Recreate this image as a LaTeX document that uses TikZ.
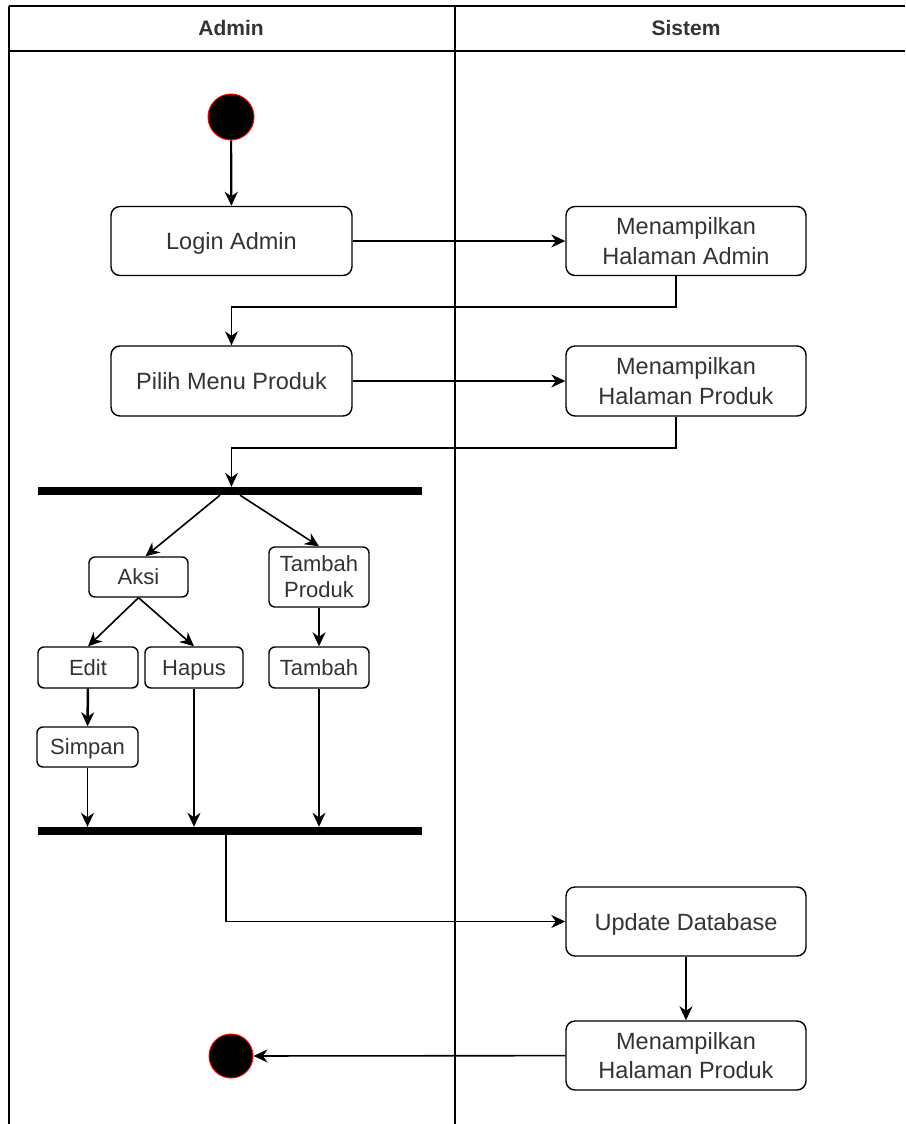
\documentclass[tikz,border=0pt]{standalone}
\usepackage{fontspec}
\setmainfont{Liberation Sans}
\usetikzlibrary{arrows.meta}
\definecolor{txt}{HTML}{333333}
\tikzset{
  act/.style={draw=black, line width=1.4pt, rounded corners=9pt, fill=white, text=txt, align=center,
    font=\fontsize{23.5}{29.5}\selectfont, inner sep=0pt},
  small/.style={draw=black, line width=1.4pt, rounded corners=6pt, fill=white, text=txt, align=center,
    font=\fontsize{22}{26}\selectfont, inner sep=0pt},
  onebig/.style={text height=17pt, text depth=0pt},
  onesmall/.style={text height=15.8pt, text depth=0pt},
  dot/.style={circle, fill=black, draw=red, line width=1pt, minimum size=46pt, inner sep=0pt},
  bar/.style={fill=black, draw=none, inner sep=0pt, minimum width=384pt, minimum height=8pt},
  flow/.style={line width=1.6pt, -{Stealth[length=14pt, width=13pt, inset=4.5pt]}},
  lane/.style={line width=1.5pt, black},
  head/.style={font=\fontsize{21}{25}\selectfont\bfseries, text=txt}
}
\begin{document}
\begin{tikzpicture}[x=1pt, y=-1pt]
\useasboundingbox (0,0) rectangle (905,1124);
% swimlanes
\draw[lane] (9,6) -- (905,6);
\draw[lane] (9,51) -- (905,51);
\draw[lane] (9,6) -- (9,1124);
\draw[lane] (455,6) -- (455,1124);
\node[head] (hadmin) at (231,28) {Admin};
\node[head] (hsistem) at (686,28) {Sistem};
% nodes
\node[dot] (start) at (231,117) {};
\node[act, onebig, minimum width=241pt, minimum height=69pt] (login) at (231.5,241) {Login Admin};
\node[act, minimum width=240pt, minimum height=69pt] (mha) at (686,241) {Menampilkan\\Halaman Admin};
\node[act, onebig, minimum width=241pt, minimum height=70pt] (pilih) at (231.5,381) {Pilih Menu Produk};
\node[act, minimum width=240pt, minimum height=70pt] (mhp) at (686,381) {Menampilkan\\Halaman Produk};
\node[bar] (fork) at (230,491) {};
\node[small, onesmall, minimum width=99pt, minimum height=40pt] (aksi) at (138.5,577) {Aksi};
\node[small, minimum width=100pt, minimum height=60pt] (tprod) at (319,577) {Tambah\\Produk};
\node[small, onesmall, minimum width=100pt, minimum height=41pt] (edit) at (88,667.5) {Edit};
\node[small, onesmall, minimum width=98pt, minimum height=41pt] (hapus) at (194,667.5) {Hapus};
\node[small, onesmall, minimum width=100pt, minimum height=41pt] (tambah) at (319,667.5) {Tambah};
\node[small, onesmall, minimum width=101pt, minimum height=40pt] (simpan) at (87.5,747) {Simpan};
\node[bar] (join) at (230,831) {};
\node[act, onebig, minimum width=240pt, minimum height=69pt] (upd) at (686,921.5) {Update Database};
\node[act, minimum width=240pt, minimum height=69pt] (mhp2) at (686,1055.5) {Menampilkan\\Halaman Produk};
\node[dot, minimum size=44pt] (end) at (231,1056) {};
% connectors
\draw[flow, line width=2.2pt] (start) -- (login);
\draw[flow] (login) -- (mha);
\draw[flow] ([xshift=-10pt]mha.south) -- ++(0,31) -| (pilih.north);
\draw[flow] ([xshift=-10pt]mhp.south) -- ++(0,31) -| (fork.north -| pilih.north);
\draw[flow] (pilih) -- (mhp);
\draw[flow] ([xshift=-10pt]fork.south) -- ([xshift=7pt]aksi.north);
\draw[flow] ([xshift=10pt]fork.south) -- (tprod.north);
\draw[flow] (aksi.south) -- (edit.north);
\draw[flow] (aksi.south) -- (hapus.north);
\draw[flow] (tprod) -- (tambah);
\draw[flow, line width=2.5pt] (edit) -- (simpan);
\draw[flow] (simpan.south) -- (simpan.south |- join.north);
\draw[flow] (hapus.south) -- (hapus.south |- join.north);
\draw[flow] (tambah.south) -- (tambah.south |- join.north);
\draw[flow] ([xshift=-4pt]join.south) |- (upd.west);
\draw[flow] (upd) -- (mhp2);
\draw[flow] (mhp2) -- (end);
\end{tikzpicture}
\end{document}
